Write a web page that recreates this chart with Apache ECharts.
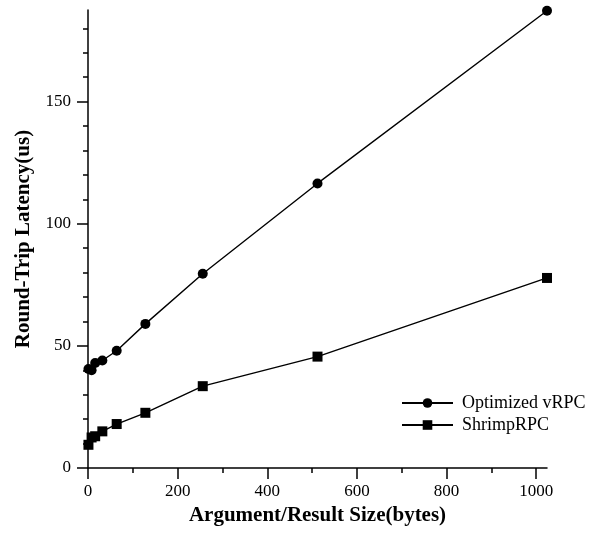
<!DOCTYPE html>
<html>
<head>
<meta charset="utf-8">
<script src="https://cdn.jsdelivr.net/npm/echarts@6/dist/echarts.min.js"></script>
<style>
  html, body { margin: 0; padding: 0; background: #fff; }
  #chart { width: 599px; height: 535px; }
</style>
</head>
<body>
<div id="chart"></div>
<script>
// argument / result size in bytes
const sizes = [1, 8, 16, 32, 64, 128, 256, 512, 1024]
// round-trip latency (us)
const optimizedVrpc = [40.5, 40, 43, 44, 48, 59, 79.5, 116.5, 187.2]
const shrimpRpc = [9.5, 12.5, 13, 15, 18, 22.6, 33.5, 45.6, 77.8]

const xMajorTicks = [0, 200, 400, 600, 800, 1000]
const xMinorTicks = [100, 300, 500, 700, 900]
const yMajorTicks = [0, 50, 100, 150]
const yMinorTicks = [10, 20, 30, 40, 60, 70, 80, 90, 110, 120, 130, 140, 160, 170, 180]

const xMax = 1024
const yMax = 187.5

const font = 'Liberation Serif'
const ink = '#000'

function pairs(ys) {
  return sizes.map((x, ii) => [x, ys[ii]])
}

const chart = echarts.init(document.getElementById('chart'))

chart.setOption({
  animation: false,
  backgroundColor: '#fff',
  grid: { left: 88, right: 52, top: 10, bottom: 67 },
  legend: {
    orient: 'vertical',
    left: 401,
    top: 394,
    padding: 0,
    itemWidth: 51,
    itemHeight: 12,
    itemGap: 4,
    textStyle: { fontFamily: font, fontSize: 18, color: ink, padding: [0, 0, 0, 4] },
    data: ['Optimized vRPC', 'ShrimpRPC'],
  },
  xAxis: [
    {
      type: 'value',
      min: 0,
      max: xMax,
      name: 'Argument/Result Size(bytes)',
      nameLocation: 'middle',
      nameGap: 27,
      nameTextStyle: { fontFamily: font, fontSize: 21, fontWeight: 'bold', color: ink },
      axisLine: { show: true, lineStyle: { color: ink, width: 1.5 } },
      axisTick: { show: true, length: 11, customValues: xMajorTicks, lineStyle: { color: ink, width: 1.5 } },
      axisLabel: {
        customValues: xMajorTicks,
        margin: 15,
        fontFamily: font,
        fontSize: 17,
        color: ink,
        formatter: (val) => String(val),
      },
      splitLine: { show: false },
    },
    {
      type: 'value',
      min: 0,
      max: xMax,
      position: 'bottom',
      axisLine: { show: false },
      axisTick: { show: true, length: 5, customValues: xMinorTicks, lineStyle: { color: ink, width: 1.5 } },
      axisLabel: { show: false },
      splitLine: { show: false },
    },
  ],
  yAxis: [
    {
      type: 'value',
      min: 0,
      max: yMax,
      name: 'Round-Trip Latency(us)',
      nameLocation: 'middle',
      nameGap: 54,
      nameTextStyle: { fontFamily: font, fontSize: 21, fontWeight: 'bold', color: ink },
      axisLine: { show: true, lineStyle: { color: ink, width: 1.5 } },
      axisTick: { show: true, length: 11, customValues: yMajorTicks, lineStyle: { color: ink, width: 1.5 } },
      axisLabel: { customValues: yMajorTicks, margin: 17, fontFamily: font, fontSize: 17, color: ink },
      splitLine: { show: false },
    },
    {
      type: 'value',
      min: 0,
      max: yMax,
      position: 'left',
      axisLine: { show: false },
      axisTick: { show: true, length: 5, customValues: yMinorTicks, lineStyle: { color: ink, width: 1.5 } },
      axisLabel: { show: false },
      splitLine: { show: false },
    },
  ],
  series: [
    {
      name: 'Optimized vRPC',
      type: 'line',
      data: pairs(optimizedVrpc),
      symbol: 'circle',
      symbolSize: 10,
      showAllSymbol: true,
      itemStyle: { color: ink },
      lineStyle: { color: ink, width: 1.4 },
    },
    {
      name: 'ShrimpRPC',
      type: 'line',
      data: pairs(shrimpRpc),
      symbol: 'rect',
      symbolSize: 10,
      showAllSymbol: true,
      itemStyle: { color: ink },
      lineStyle: { color: ink, width: 1.4 },
    },
  ],
})
</script>
</body>
</html>
